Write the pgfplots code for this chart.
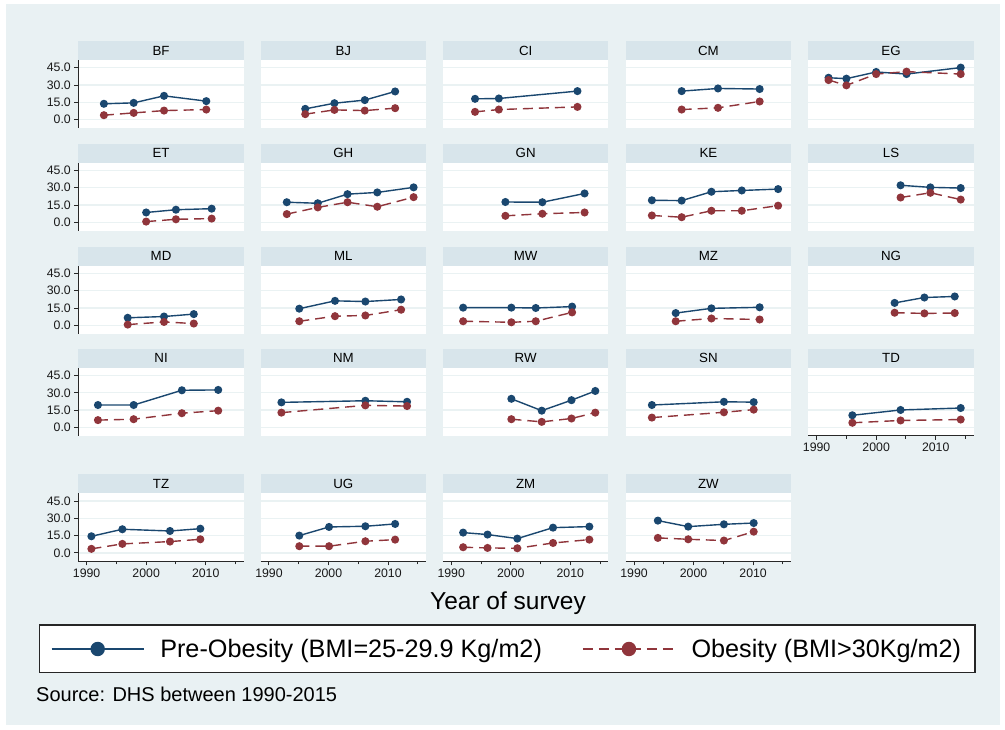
\documentclass[border=0pt]{standalone}
\usepackage{fontspec}
\setmainfont{Liberation Sans}
\usepackage{pgfplots}
\pgfplotsset{compat=1.18}
\definecolor{bgc}{RGB}{233,241,243}
\definecolor{stripc}{RGB}{216,229,235}
\definecolor{gridc}{RGB}{234,242,243}
\definecolor{navyc}{RGB}{26,71,111}
\definecolor{maroonc}{RGB}{144,53,59}
\definecolor{axisc}{RGB}{40,40,40}
\pgfplotsset{
  panel/.style={
    scale only axis, width=165.5pt, height=68pt,
    anchor=north west,
    xmin=1988.6, xmax=2016.4, ymin=-7.3, ymax=51.7,
    axis background/.style={fill=white},
    axis line style={draw=none},
    xtick=\empty,
    ytick={0,15,30,45}, yticklabels={},
    tick pos=left, tick align=outside,
    major tick length=4pt, minor tick length=3pt,
    ytick style={draw=none},
    ymajorgrids, grid style={draw=gridc, line width=1.3pt},
    every axis title/.style={at={(0.5,1)}, anchor=south, fill=stripc,
      minimum width=165.5pt, minimum height=19pt, inner sep=0pt, outer sep=0pt,
      font=\fontsize{13.3}{13.3}\selectfont, text=black},
    clip=false,
    tick label style={font=\fontsize{12.3}{12.3}\selectfont, text=black!90},
  },
  leftcol/.style={yticklabels={0.0,15.0,30.0,45.0},
    ytick style={draw=axisc, line width=0.9pt},
    extra description/.append code={\draw[axisc, line width=1.1pt] (0,0) -- (0,1);}},
  botrow/.style={xtick={1990,2000,2010}, xticklabels={1990,2000,2010},
    minor xtick={1995,2005,2015},
    xtick style={draw=axisc, line width=0.9pt},
    extra description/.append code={\draw[axisc, line width=1.1pt] (0,0) -- (1,0);}},
  preob/.style={color=navyc, line width=1.4pt, mark=*, mark size=3.3pt,
    mark options={fill=navyc, solid}},
  obes/.style={color=maroonc, line width=1.4pt, dash pattern=on 10pt off 6pt,
    mark=*, mark size=3.3pt, mark options={fill=maroonc, solid}},
}
\begin{document}
\begin{tikzpicture}
\fill[white] (0pt,0pt) rectangle (1005pt,729pt);
\path[use as bounding box] (0pt,0pt) rectangle (1005pt,729pt);
\fill[bgc] (6pt,4pt) rectangle (1000pt,725pt);
\draw[black!85, line width=1.3pt, fill=white] (39.3pt,56.7pt) rectangle (975pt,104pt);
\node[anchor=base, font=\fontsize{24.5}{24.5}\selectfont] at (508pt,119pt) {Year of survey};
\node[anchor=base west, font=\fontsize{20}{20}\selectfont, inner sep=0pt] at (36pt,27.3pt) {Source: DHS between 1990-2015};

% Row 1
\begin{axis}[panel, leftcol, at={(78.3pt,669pt)}, title={BF}]
\addplot[preob] coordinates {(1992.9,13.7)(1997.9,14.5)(2003.0,20.6)(2010.1,16.0)};
\addplot[obes] coordinates {(1992.9,3.8)(1997.9,5.8)(2003.0,7.8)(2010.1,8.7)};
\end{axis}
\begin{axis}[panel, at={(260.6pt,669pt)}, title={BJ}]
\addplot[preob] coordinates {(1996.1,9.3)(2001.0,14.2)(2006.1,16.9)(2011.2,24.4)};
\addplot[obes] coordinates {(1996.1,4.7)(2001.0,8.4)(2006.1,7.8)(2011.2,9.9)};
\end{axis}
\begin{axis}[panel, at={(442.9pt,669pt)}, title={CI}]
\addplot[preob] coordinates {(1994.0,18.0)(1998.0,18.3)(2011.2,24.7)};
\addplot[obes] coordinates {(1994.0,6.7)(1998.0,8.7)(2011.2,11.0)};
\end{axis}
\begin{axis}[panel, at={(625.7pt,669pt)}, title={CM}]
\addplot[preob] coordinates {(1998.0,24.7)(2004.1,27.0)(2011.1,26.5)};
\addplot[obes] coordinates {(1998.0,8.7)(2004.1,10.2)(2011.1,15.7)};
\end{axis}
\begin{axis}[panel, at={(808.3pt,669pt)}, title={EG}]
\addplot[preob] coordinates {(1992.0,36.3)(1995.0,35.5)(2000.0,41.3)(2005.1,39.5)(2014.2,45.1)};
\addplot[obes] coordinates {(1992.0,34.3)(1995.0,29.7)(2000.0,39.5)(2005.1,41.6)(2014.2,39.5)};
\end{axis}

% Row 2
\begin{axis}[panel, leftcol, at={(78.3pt,566.3pt)}, title={ET}]
\addplot[preob] coordinates {(2000.0,8.5)(2005.0,10.9)(2011.0,11.8)};
\addplot[obes] coordinates {(2000.0,0.6)(2005.0,2.6)(2011.0,3.2)};
\end{axis}
\begin{axis}[panel, at={(260.6pt,566.3pt)}, title={GH}]
\addplot[preob] coordinates {(1993.0,17.4)(1998.2,16.5)(2003.2,24.4)(2008.2,25.9)(2014.3,30.3)};
\addplot[obes] coordinates {(1993.0,7.1)(1998.2,12.9)(2003.2,17.4)(2008.2,13.5)(2014.3,21.8)};
\end{axis}
\begin{axis}[panel, at={(442.9pt,566.3pt)}, title={GN}]
\addplot[preob] coordinates {(1999.1,17.6)(2005.3,17.4)(2012.4,25.0)};
\addplot[obes] coordinates {(1999.1,5.6)(2005.3,7.4)(2012.4,8.5)};
\end{axis}
\begin{axis}[panel, at={(625.7pt,566.3pt)}, title={KE}]
\addplot[preob] coordinates {(1993.0,19.1)(1998.0,18.8)(2003.0,26.5)(2008.1,27.6)(2014.2,28.8)};
\addplot[obes] coordinates {(1993.0,5.9)(1998.0,4.4)(2003.0,10.0)(2008.1,10.0)(2014.2,14.4)};
\end{axis}
\begin{axis}[panel, at={(808.3pt,566.3pt)}, title={LS}]
\addplot[preob] coordinates {(2004.1,32.1)(2009.1,30.3)(2014.2,29.7)};
\addplot[obes] coordinates {(2004.1,21.5)(2009.1,25.6)(2014.2,19.7)};
\end{axis}

% Row 3
\begin{axis}[panel, leftcol, at={(78.3pt,463.3pt)}, title={MD}]
\addplot[preob] coordinates {(1996.9,6.5)(2003.0,7.6)(2008.0,9.7)};
\addplot[obes] coordinates {(1996.9,0.6)(2003.0,2.9)(2008.0,1.5)};
\end{axis}
\begin{axis}[panel, at={(260.6pt,463.3pt)}, title={ML}]
\addplot[preob] coordinates {(1995.1,14.4)(2001.1,21.2)(2006.2,20.6)(2012.2,22.4)};
\addplot[obes] coordinates {(1995.1,3.5)(2001.1,7.9)(2006.2,8.5)(2012.2,13.5)};
\end{axis}
\begin{axis}[panel, at={(442.9pt,463.3pt)}, title={MW}]
\addplot[preob] coordinates {(1992.0,15.3)(2000.1,15.3)(2004.2,15.0)(2010.3,16.2)};
\addplot[obes] coordinates {(1992.0,3.5)(2000.1,2.6)(2004.2,3.5)(2010.3,11.2)};
\end{axis}
\begin{axis}[panel, at={(625.7pt,463.3pt)}, title={MZ}]
\addplot[preob] coordinates {(1997.0,10.6)(2003.0,14.7)(2011.1,15.6)};
\addplot[obes] coordinates {(1997.0,3.5)(2003.0,5.9)(2011.1,5.0)};
\end{axis}
\begin{axis}[panel, at={(808.3pt,463.3pt)}, title={NG}]
\addplot[preob] coordinates {(2003.1,19.4)(2008.1,24.1)(2013.2,25.0)};
\addplot[obes] coordinates {(2003.1,10.9)(2008.1,10.3)(2013.2,10.6)};
\end{axis}

% Row 4
\begin{axis}[panel, leftcol, at={(78.3pt,361.2pt)}, title={NI}]
\addplot[preob] coordinates {(1991.9,19.4)(1997.9,19.4)(2006.0,32.2)(2012.1,32.5)};
\addplot[obes] coordinates {(1991.9,6.3)(1997.9,7.1)(2006.0,12.3)(2012.1,14.5)};
\end{axis}
\begin{axis}[panel, at={(260.6pt,361.2pt)}, title={NM}]
\addplot[preob] coordinates {(1992.1,21.7)(2006.2,23.1)(2013.2,22.2)};
\addplot[obes] coordinates {(1992.1,12.8)(2006.2,19.1)(2013.2,18.5)};
\end{axis}
\begin{axis}[panel, at={(442.9pt,361.2pt)}, title={RW}]
\addplot[preob] coordinates {(2000.1,24.8)(2005.2,14.5)(2010.2,23.6)(2014.2,31.6)};
\addplot[obes] coordinates {(2000.1,7.1)(2005.2,4.8)(2010.2,7.7)(2014.2,12.8)};
\end{axis}
\begin{axis}[panel, at={(625.7pt,361.2pt)}, title={SN}]
\addplot[preob] coordinates {(1993.0,19.4)(2005.1,22.2)(2010.1,21.9)};
\addplot[obes] coordinates {(1993.0,8.5)(2005.1,13.1)(2010.1,15.4)};
\end{axis}
\begin{axis}[panel, botrow, at={(808.3pt,361.2pt)}, title={TD}]
\addplot[preob] coordinates {(1996.0,10.5)(2004.1,15.1)(2014.2,16.8)};
\addplot[obes] coordinates {(1996.0,4.0)(2004.1,6.0)(2014.2,6.8)};
\end{axis}

% Row 5
\begin{axis}[panel, leftcol, botrow, at={(78.3pt,235.7pt)}, title={TZ}]
\addplot[preob] coordinates {(1990.8,14.4)(1996.0,20.5)(2004.0,19.0)(2009.1,21.0)};
\addplot[obes] coordinates {(1990.8,3.5)(1996.0,7.8)(2004.0,9.8)(2009.1,11.8)};
\end{axis}
\begin{axis}[panel, botrow, at={(260.6pt,235.7pt)}, title={UG}]
\addplot[preob] coordinates {(1995.1,15.0)(2000.1,22.5)(2006.2,23.1)(2011.2,25.1)};
\addplot[obes] coordinates {(1995.1,5.8)(2000.1,5.8)(2006.2,10.1)(2011.2,11.5)};
\end{axis}
\begin{axis}[panel, botrow, at={(442.9pt,235.7pt)}, title={ZM}]
\addplot[preob] coordinates {(1992.0,17.6)(1996.1,15.9)(2001.1,12.4)(2007.1,21.9)(2013.2,22.8)};
\addplot[obes] coordinates {(1992.0,4.9)(1996.1,4.3)(2001.1,4.0)(2007.1,8.6)(2013.2,11.5)};
\end{axis}
\begin{axis}[panel, botrow, at={(625.7pt,235.7pt)}, title={ZW},
  legend columns=2,
  legend style={at={(-3.4743,-1.2897)}, anchor=west, draw=none, fill=none,
    inner sep=0pt, outer sep=0pt, row sep=0pt,
    font=\fontsize{25.2}{25.2}\selectfont,
    nodes={inner sep=0pt},
    /tikz/every odd column/.append style={column sep=15.6pt},
    /tikz/every even column/.append style={column sep=40pt}},
  legend image code/.code={\draw[mark repeat=2, mark phase=2, #1, line width=2pt, mark size=6.2pt]
    plot coordinates {(0pt,0pt) (46pt,0pt) (92pt,0pt)};}]
\addplot[preob] coordinates {(1994.0,28.0)(1999.1,22.8)(2005.1,24.8)(2010.1,25.9)};
\addplot[obes] coordinates {(1994.0,13.0)(1999.1,11.8)(2005.1,10.7)(2010.1,18.4)};
\addlegendentry{Pre-Obesity (BMI=25-29.9 Kg/m2)}
\addlegendentry{Obesity (BMI>30Kg/m2)}
\end{axis}
\end{tikzpicture}
\end{document}
